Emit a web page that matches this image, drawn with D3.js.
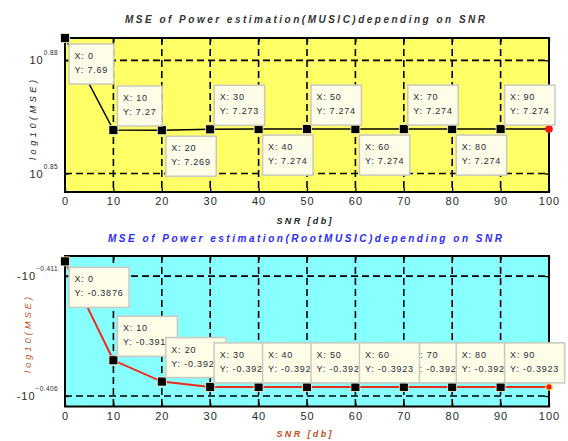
<!DOCTYPE html>
<html>
<head>
<meta charset="utf-8">
<script src="https://cdn.jsdelivr.net/npm/d3@7"></script>
<style>
  body { margin: 0; background: #fff; }
  svg { display: block; font-family: "Liberation Sans", Arial, sans-serif; }
</style>
</head>
<body>
<svg id="fig" width="568" height="441"></svg>
<script>
// SNR sweep (dB)
const snr = [0, 10, 20, 30, 40, 50, 60, 70, 80, 90, 100];
// MSE of the power estimate, MUSIC
const musicMse = [7.69, 7.27, 7.269, 7.273, 7.274, 7.274, 7.274, 7.274, 7.274, 7.274, 7.274];
// MSE of the power estimate, Root-MUSIC
const rootMusicMse = [-0.3876, -0.3913, -0.3921, -0.3923, -0.3923, -0.3923, -0.3923, -0.3923, -0.3923, -0.3923, -0.3923];
// axis ticks
const snrTicks = [0, 10, 20, 30, 40, 50, 60, 70, 80, 90, 100];
const musicTickExp = [0.85, 0.88];          // ticks at 10^e
const rootMusicTickExp = [-0.411, -0.406];  // ticks at -10^e
// SNR points carrying a data tip, in the order they were pinned
const musicTips = [0, 10, 20, 30, 40, 50, 60, 70, 80, 90];
const rootMusicTips = [0, 10, 20, 30, 40, 50, 70, 60, 80, 90];

const svg = d3.select("#fig");
const x = d3.scaleLinear().domain([0, 100]).range([65, 549]);

function panel(o) {
  const g = svg.append("g");
  const y0 = o.y.range()[0], y1 = o.y.range()[1];

  // plot background
  g.append("rect").attr("x", x(0)).attr("y", y1).attr("width", x(100) - x(0))
    .attr("height", y0 - y1).attr("fill", o.bg);

  // dashed grid
  const grid = g.append("g").attr("stroke", "#000").attr("stroke-width", 1.6)
    .attr("stroke-dasharray", "7,4");
  grid.selectAll(".gx").data(snrTicks.filter(d => d > 0 && d < 100)).join("line")
    .attr("x1", d => x(d)).attr("x2", d => x(d)).attr("y1", y1).attr("y2", y0);
  grid.selectAll(".gy").data(o.ticks).join("line")
    .attr("x1", x(0)).attr("x2", x(100)).attr("y1", d => o.y(d)).attr("y2", d => o.y(d));

  // inward tick marks on all four sides
  const ax = d3.axisBottom(x).tickValues(snrTicks).tickSizeInner(-4).tickSizeOuter(0)
    .tickPadding(5.5);
  const axB = g.append("g").attr("transform", `translate(0,${y0})`).call(ax);
  axB.select(".domain").remove();
  axB.selectAll("text").attr("font-size", 11).attr("letter-spacing", 1)
    .attr("fill", "#2a2a2a").attr("font-family", "Liberation Sans, Arial, sans-serif");
  const axT = g.append("g").attr("transform", `translate(0,${y1})`)
    .call(d3.axisTop(x).tickValues(snrTicks).tickSizeInner(-4).tickSizeOuter(0).tickFormat(""));
  axT.select(".domain").remove();
  const axL = g.append("g").attr("transform", `translate(${x(0)},0)`)
    .call(d3.axisLeft(o.y).tickValues(o.ticks).tickSizeInner(-4).tickSizeOuter(0).tickFormat(""));
  axL.select(".domain").remove();
  const axR = g.append("g").attr("transform", `translate(${x(100)},0)`)
    .call(d3.axisRight(o.y).tickValues(o.ticks).tickSizeInner(-4).tickSizeOuter(0).tickFormat(""));
  axR.select(".domain").remove();
  g.selectAll(".tick line").attr("stroke", "#000").attr("stroke-width", 1.3);

  // y tick labels written as powers of ten
  const yl = g.selectAll(".ylab").data(o.ticks).join("text")
    .attr("x", 58).attr("y", d => o.y(d) + 4).attr("text-anchor", "end")
    .attr("fill", "#2a2a2a");
  yl.append("tspan").attr("font-size", 11).attr("letter-spacing", 1)
    .text(d => (d < 0 ? "-" : "") + "10");
  yl.append("tspan").attr("font-size", 6.5).attr("dy", -9).attr("letter-spacing", 0.4)
    .text(d => d3.format(o.expFmt)(Math.log10(Math.abs(d))));

  // frame
  g.append("rect").attr("x", x(0)).attr("y", y1).attr("width", x(100) - x(0))
    .attr("height", y0 - y1).attr("fill", "none").attr("stroke", "#000").attr("stroke-width", 2);

  // data line
  const pts = snr.map((s, i) => [s, o.values[i]]);
  g.append("path").datum(pts)
    .attr("d", d3.line().x(d => x(d[0])).y(d => o.y(d[1])))
    .attr("fill", "none").attr("stroke", o.lineColor).attr("stroke-width", o.lineWidth);

  // end-point marker
  const last = pts[pts.length - 1];
  g.append("circle").attr("cx", x(last[0])).attr("cy", o.y(last[1])).attr("r", 3.2)
    .attr("fill", "#ff1010").attr("stroke", o.endStroke).attr("stroke-width", 1.2);

  // data tip markers
  const tipPts = o.tips.map(s => [s, o.values[snr.indexOf(s)]]);
  g.selectAll(".tm").data(tipPts).join("rect")
    .attr("x", d => x(d[0]) - 4.5).attr("y", d => o.y(d[1]) - 4.5)
    .attr("width", 9).attr("height", 9).attr("fill", "#000")
    .attr("stroke", "#fffbd0").attr("stroke-width", 0.8);

  // data tip boxes
  tipPts.forEach(d => {
    const px = x(d[0]), py = o.y(d[1]);
    const below = o.below(d[0]);
    const h = 40;
    const top = below ? py + 6 : py - 4 - h;
    const tg = g.append("g");
    const box = tg.append("rect").attr("x", px + 4).attr("y", top).attr("height", h)
      .attr("fill", "#fdfde8").attr("stroke", "#c9c9c2").attr("stroke-width", 1.5);
    const t1 = tg.append("text").attr("x", px + 9.5).attr("y", top + 15)
      .attr("font-size", 9).attr("letter-spacing", 0.8).attr("fill", "#2b2b3a")
      .text("X: " + d[0]);
    const t2 = tg.append("text").attr("x", px + 9.5).attr("y", top + 29)
      .attr("font-size", 9).attr("letter-spacing", 0.8).attr("fill", "#2b2b3a")
      .text("Y: " + d[1]);
    const w = Math.max(t1.node().getComputedTextLength(), t2.node().getComputedTextLength());
    box.attr("width", w + 11);
  });

  // titles and axis labels
  svg.append("text").attr("x", 305).attr("y", o.titleY).attr("text-anchor", "middle")
    .attr("font-size", 10).attr("font-weight", "bold").attr("font-style", "italic")
    .attr("fill", o.titleColor).attr("textLength", o.titleLen).attr("lengthAdjust", "spacing")
    .text(o.title);
  svg.append("text").attr("x", 304).attr("y", o.xLabelY).attr("text-anchor", "middle")
    .attr("font-size", 9).attr("font-weight", "bold").attr("font-style", "italic")
    .attr("fill", o.labelColor).attr("textLength", 55).attr("lengthAdjust", "spacing")
    .text("SNR [db]");
  svg.append("text").attr("transform", `translate(${o.yLabelX},${o.yLabelY}) rotate(-90)`)
    .attr("text-anchor", "middle").attr("dy", 3)
    .attr("font-size", 9).attr("font-style", "italic")
    .attr("fill", o.labelColor).attr("textLength", o.yLabelLen).attr("lengthAdjust", "spacing")
    .text("log10(MSE)");
}

panel({
  y: d3.scaleLog().domain([7.0, 7.69]).range([192, 38]),
  bg: "#ffff66",
  values: musicMse,
  ticks: musicTickExp.map(e => Math.pow(10, e)),
  expFmt: ".2f",
  lineColor: "#000", lineWidth: 1.5, endStroke: "#ff1010",
  tips: musicTips,
  below: s => (s / 10) % 2 === 0,
  title: "MSE of Power estimation(MUSIC)depending on SNR",
  titleColor: "#333", titleLen: 360, titleY: 23,
  labelColor: "#222", xLabelY: 224,
  yLabelX: 33, yLabelY: 120, yLabelLen: 80
});

panel({
  y: d3.scaleLog().domain([-0.39304, -0.3874]).range([406.5, 256]),
  bg: "#88ffff",
  values: rootMusicMse,
  ticks: rootMusicTickExp.map(e => -Math.pow(10, e)),
  expFmt: ".3f",
  lineColor: "#ee2a1c", lineWidth: 2, endStroke: "#ffe14a",
  tips: rootMusicTips,
  below: s => s === 0,
  title: "MSE of Power estimation(RootMUSIC)depending on SNR",
  titleColor: "#2a2aff", titleLen: 394, titleY: 242,
  labelColor: "#c4501c", xLabelY: 437,
  yLabelX: 28, yLabelY: 335, yLabelLen: 76
});
</script>
</body>
</html>
